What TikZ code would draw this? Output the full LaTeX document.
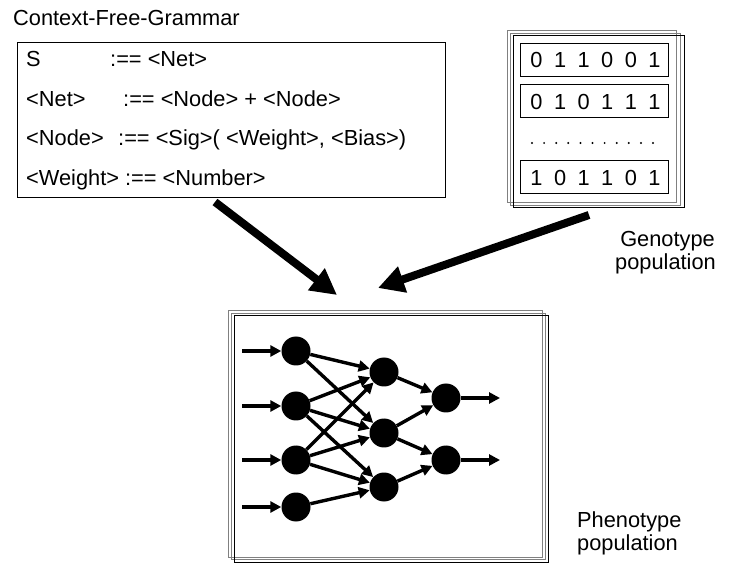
\documentclass[tikz,border=0pt]{standalone}
\usepackage{fontspec}
\setmainfont{Liberation Sans}
\usetikzlibrary{arrows.meta}

\begin{document}
\begin{tikzpicture}[x=1pt,y=1pt,yscale=-1,
  txt/.style={anchor=base west,inner sep=0pt,font=\fontsize{21.8}{24}\selectfont},
  bit/.style={anchor=base,inner sep=0pt,font=\fontsize{21.8}{24}\selectfont},
  rowbox/.style={draw,line width=1pt,minimum width=148pt,minimum height=33pt,inner sep=0pt},
  neuron/.style={circle,fill=black,minimum size=29pt,inner sep=0pt},
  link/.style={line width=3.4pt,-{Triangle[length=11pt,width=11pt]}},
  bigarrow/.style={line width=8pt,-{Triangle[length=26pt,width=26pt]}},
  stackback/.style={draw=black!50,line width=0.9pt},
  stackfront/.style={draw=black,line width=1pt}]
\useasboundingbox (0,0) rectangle (740,580);

%Shape: Rectangle [grammar]
\draw [line width=1pt] (17,43) rectangle (445,198);
% Text Node
\node [txt] (title) at (13,26) {Context-Free-Grammar};
\node [txt] (lhsa) at (26,67) {S};
\node [txt] (rhsa) at (110,67) {:== <Net>};
\node [txt] (lhsb) at (26,107) {<Net>};
\node [txt] (rhsb) at (123,107) {:== <Node> + <Node>};
\node [txt] (lhsc) at (26,146) {<Node>};
\node [txt] (rhsc) at (118,146) {:== <Sig>( <Weight>, <Bias>)};
\node [txt] (lhsd) at (26,186) {<Weight> :== <Number>};

%Shape: Rectangle stack [genotype]
\draw [stackback] (507,30) rectangle (676,202);
\draw [stackback] (510,33) rectangle (680,205);
\draw [stackfront] (513,36) rectangle (684,208);
\node [rowbox] (rowa) at (594,60) {};
\node [rowbox] (rowb) at (594,101.5) {};
\node [rowbox] (rowc) at (594,177.5) {};
\foreach \d [count=\i] in {0,1,1,0,0,1}
  \node [bit] (bita\i) at ({536.5+(\i-1)*23.6},68) {\d};
\foreach \d [count=\i] in {0,1,0,1,1,1}
  \node [bit] (bitb\i) at ({536.5+(\i-1)*23.6},109.5) {\d};
\foreach \d [count=\i] in {1,0,1,1,0,1}
  \node [bit] (bitc\i) at ({536.5+(\i-1)*23.6},185.5) {\d};
%dots
\foreach \k in {0,...,10}
  \fill ({532+\k*12.1},143) circle (1.1);
% Text Node
\node [txt,anchor=base east] (genoa) at (715,247) {Genotype};
\node [txt,anchor=base east] (genob) at (716,270) {population};

%Shape: Rectangle stack [phenotype]
\draw [stackback] (228,310) rectangle (542,557);
\draw [stackback] (231,313) rectangle (545,559.5);
\draw [stackfront] (234,316) rectangle (548,562);
% Text Node
\node [txt] (phenoa) at (577,527) {Phenotype};
\node [txt] (phenob) at (577,550) {population};

%Big arrows
\coordinate (gramtail) at (215,202);
\coordinate (gramtip) at (337,295);
\coordinate (genotail) at (589,215);
\coordinate (genotip) at (378,288);
\draw [bigarrow] (gramtail) -- (gramtip);
\draw [bigarrow] (genotail) -- (genotip);

%Neurons
\node [neuron] (in1) at (296,351) {};
\node [neuron] (in2) at (296,406) {};
\node [neuron] (in3) at (296,460) {};
\node [neuron] (in4) at (296,507) {};
\node [neuron] (hid1) at (384,372) {};
\node [neuron] (hid2) at (384,433) {};
\node [neuron] (hid3) at (384,487) {};
\node [neuron] (out1) at (446,398) {};
\node [neuron] (out2) at (446,460) {};
\coordinate (src1) at (242,351);
\coordinate (src2) at (242,406);
\coordinate (src3) at (242,460);
\coordinate (src4) at (242,507);
\coordinate (dst1) at (500,398);
\coordinate (dst2) at (500,460);

%Straight Lines
\draw [link] (src1) -- (in1);
\draw [link] (src2) -- (in2);
\draw [link] (src3) -- (in3);
\draw [link] (src4) -- (in4);
\draw [link] (in1) -- (hid1);
\draw [link] (in1) -- (hid2);
\draw [link] (in2) -- (hid1);
\draw [link] (in2) -- (hid2);
\draw [link] (in2) -- (hid3);
\draw [link] (in3) -- (hid1);
\draw [link] (in3) -- (hid2);
\draw [link] (in3) -- (hid3);
\draw [link] (in4) -- (hid3);
\draw [link] (hid1) -- (out1);
\draw [link] (hid2) -- (out1);
\draw [link] (hid2) -- (out2);
\draw [link] (hid3) -- (out2);
\draw [link] (out1) -- (dst1);
\draw [link] (out2) -- (dst2);

\end{tikzpicture}
\end{document}
